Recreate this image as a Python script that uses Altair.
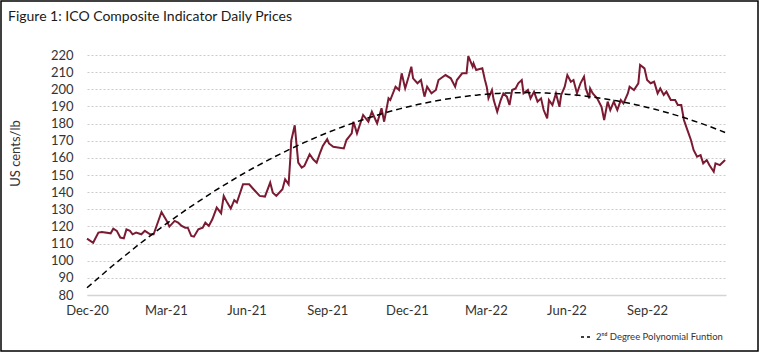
import altair as alt
import pandas as pd

dates = [
    "2020-12-01", "2020-12-08", "2020-12-14", "2020-12-18", "2020-12-28", "2020-12-31",
    "2021-01-04", "2021-01-08", "2021-01-12", "2021-01-15", "2021-01-19", "2021-01-22",
    "2021-01-26", "2021-02-01", "2021-02-05", "2021-02-11", "2021-02-15", "2021-02-24",
    "2021-03-02", "2021-03-05", "2021-03-11", "2021-03-15", "2021-03-19", "2021-03-23",
    "2021-03-26", "2021-03-30", "2021-04-02", "2021-04-07", "2021-04-12", "2021-04-15",
    "2021-04-19", "2021-04-23", "2021-04-28", "2021-05-03", "2021-05-06", "2021-05-10",
    "2021-05-14", "2021-05-18", "2021-05-21", "2021-05-28", "2021-06-04", "2021-06-09",
    "2021-06-16", "2021-06-22", "2021-06-28", "2021-07-01", "2021-07-05", "2021-07-12",
    "2021-07-15", "2021-07-19", "2021-07-21", "2021-07-22", "2021-07-26", "2021-07-28",
    "2021-07-30", "2021-08-03", "2021-08-06", "2021-08-12", "2021-08-16", "2021-08-20",
    "2021-08-24", "2021-08-27", "2021-09-01", "2021-09-03", "2021-09-08", "2021-09-20",
    "2021-09-23", "2021-09-29", "2021-10-01", "2021-10-05", "2021-10-12", "2021-10-18",
    "2021-10-22", "2021-10-28", "2021-11-02", "2021-11-05", "2021-11-10", "2021-11-12",
    "2021-11-18", "2021-11-22", "2021-11-25", "2021-11-29", "2021-12-03", "2021-12-06",
    "2021-12-08", "2021-12-13", "2021-12-17", "2021-12-21", "2021-12-24", "2021-12-29",
    "2022-01-03", "2022-01-06", "2022-01-14", "2022-01-20", "2022-01-25", "2022-01-27",
    "2022-02-02", "2022-02-07", "2022-02-09", "2022-02-14", "2022-02-15", "2022-02-18",
    "2022-02-25", "2022-02-28", "2022-03-02", "2022-03-04", "2022-03-08", "2022-03-10",
    "2022-03-14", "2022-03-18", "2022-03-21", "2022-03-25", "2022-03-28", "2022-03-31",
    "2022-04-04", "2022-04-07", "2022-04-11", "2022-04-13", "2022-04-18", "2022-04-21",
    "2022-04-25", "2022-04-29", "2022-05-03", "2022-05-06", "2022-05-10", "2022-05-12",
    "2022-05-16", "2022-05-20", "2022-05-24", "2022-05-26", "2022-05-30", "2022-06-02",
    "2022-06-06", "2022-06-09", "2022-06-13", "2022-06-17", "2022-06-21", "2022-06-23",
    "2022-06-27", "2022-06-28", "2022-07-01", "2022-07-06", "2022-07-11", "2022-07-14",
    "2022-07-18", "2022-07-21", "2022-07-25", "2022-07-29", "2022-08-02", "2022-08-05",
    "2022-08-10", "2022-08-12", "2022-08-17", "2022-08-22", "2022-08-24", "2022-08-29",
    "2022-09-01", "2022-09-05", "2022-09-09", "2022-09-13", "2022-09-16", "2022-09-20",
    "2022-09-23", "2022-09-28", "2022-10-03", "2022-10-06", "2022-10-10", "2022-10-13",
    "2022-10-17", "2022-10-21", "2022-10-24", "2022-10-28", "2022-11-01", "2022-11-04",
    "2022-11-08", "2022-11-11", "2022-11-16", "2022-11-18", "2022-11-23", "2022-11-29",
]

prices = [
    112.9, 110.5, 116.4, 116.8, 116.0, 118.7,
    117.4, 113.5, 113.1, 118.3, 117.4, 115.4,
    116.4, 115.4, 117.4, 115.4, 115.4, 128.4,
    123.2, 119.9, 123.2, 122.2, 120.3, 119.3,
    119.3, 114.4, 114.0, 118.3, 119.3, 122.2,
    120.3, 124.2, 131.0, 127.7, 137.8, 133.9,
    130.4, 135.3, 133.9, 144.6, 144.6, 141.7,
    137.8, 137.4, 145.6, 139.7, 137.8, 141.7,
    147.5, 144.6, 160.0, 170.0, 179.0, 168.0,
    157.2, 154.3, 155.3, 162.1, 159.2, 157.2,
    163.1, 167.0, 170.9, 168.4, 166.5, 165.5,
    170.4, 174.3, 181.1, 174.3, 185.0, 181.1,
    186.9, 180.1, 188.9, 181.1, 194.7, 193.7,
    201.5, 199.6, 209.3, 200.5, 207.4, 213.2,
    206.4, 203.5, 205.4, 195.7, 201.5, 197.6,
    199.6, 205.4, 208.3, 206.4, 201.5, 205.4,
    209.3, 209.3, 219.4, 213.2, 215.1, 211.2,
    212.2, 205.4, 201.5, 194.7, 199.6, 193.7,
    186.9, 193.7, 197.6, 195.7, 190.8, 199.6,
    200.5, 203.5, 205.4, 197.6, 199.6, 194.7,
    198.6, 192.8, 194.7, 187.9, 183.0, 193.7,
    190.8, 197.6, 189.8, 196.7, 201.5, 208.3,
    204.4, 205.4, 197.6, 203.5, 207.4, 200.5,
    194.7, 200.5, 197.6, 194.7, 189.8, 182.1,
    192.8, 187.9, 192.8, 187.9, 193.7, 191.8,
    197.6, 201.5, 199.6, 203.5, 214.2, 212.2,
    205.4, 203.5, 204.4, 197.6, 200.5, 196.7,
    198.6, 193.7, 193.7, 190.8, 190.8, 182.1,
    176.2, 170.4, 164.6, 160.7, 161.6, 156.8,
    158.7, 155.8, 151.9, 156.8, 155.8, 158.7,
]

y_ticks = [80, 90, 100, 110, 120, 130, 140, 150, 160, 170, 180, 190, 200, 210, 220]
x_tick_months = [(2020, 12), (2021, 3), (2021, 6), (2021, 9), (2021, 12), (2022, 3), (2022, 6), (2022, 9)]

title_text = "Figure 1: ICO Composite Indicator Daily Prices"
y_title = "US cents/lb"
trend_label = "2\u207f\u1d48 Degree Polynomial Funtion"

df = pd.DataFrame({"date": pd.to_datetime(dates), "price": prices})

FONT = "Lato"
W, H = 639, 240

x_scale = alt.Scale(domain=[alt.DateTime(year=2020, month=12, date=1),
                            alt.DateTime(year=2022, month=11, date=30)])
y_scale = alt.Scale(domain=[80, 220], nice=False, zero=False)

x_axis = alt.Axis(
    values=[alt.DateTime(year=y, month=m, date=1) for y, m in x_tick_months],
    format="%b-%y", title=None, grid=False, ticks=False, labelFlush=False,
    domainColor="#d4d4d4", domainWidth=1.5, labelPadding=9,
    labelFont=FONT, labelFontSize=13, labelColor="#333333",
)
y_axis = alt.Axis(
    values=y_ticks, title=y_title, grid=True, gridDash=[2, 2], gridColor="#cccccc",
    ticks=False, domain=False, labelPadding=14, labelOverlap=False,
    labelFont=FONT, labelFontSize=13, labelColor="#333333",
    titleFont=FONT, titleFontSize=13, titleFontWeight="normal", titleColor="#333333",
    titleX=-72, titleY=98, titleAngle=270, titleAlign="center", titleBaseline="middle",
)

base = alt.Chart(df)

price_line = base.mark_line(color="#7b1a33", strokeWidth=2).encode(
    x=alt.X("date:T", scale=x_scale, axis=x_axis),
    y=alt.Y("price:Q", scale=y_scale, axis=y_axis),
)

trend = base.transform_regression(
    "date", "price", method="poly", order=2
).transform_calculate(
    series=f"'{trend_label}'"
).mark_line(strokeDash=[6, 4], strokeWidth=1.5).encode(
    x=alt.X("date:T", scale=x_scale, axis=x_axis),
    y=alt.Y("price:Q", scale=y_scale, axis=y_axis),
    color=alt.Color(
        "series:N",
        scale=alt.Scale(domain=[trend_label], range=["#000000"]),
        legend=alt.Legend(
            title=None, orient="none", legendX=493, legendY=276,
            symbolType="stroke", symbolDash=[3, 3], symbolStrokeWidth=1.5,
            symbolSize=100, labelFont=FONT, labelFontSize=9.5, labelColor="#333333",
            labelLimit=300,
        ),
    ),
)

title_mark = alt.Chart(alt.Data(values=[{"t": title_text}])).mark_text(
    align="left", baseline="middle", font=FONT, fontSize=14, color="#1a1a1a"
).encode(x=alt.value(-79), y=alt.value(-38), text="t:N")

frame = alt.Chart(alt.Data(values=[{}])).mark_rect(
    fillOpacity=0, stroke="#000000", strokeWidth=1.5
).encode(
    x=alt.value(-86), x2=alt.value(671), y=alt.value(-54), y2=alt.value(296)
)

chart = alt.layer(price_line, trend, title_mark, frame).properties(
    width=W, height=H,
    padding={"left": 87, "top": 55, "right": 36, "bottom": 61},
    autosize=alt.AutoSizeParams(type="none"),
).configure_view(stroke=None)

chart.save("out.html", embed_options={"renderer": "svg", "actions": False})
